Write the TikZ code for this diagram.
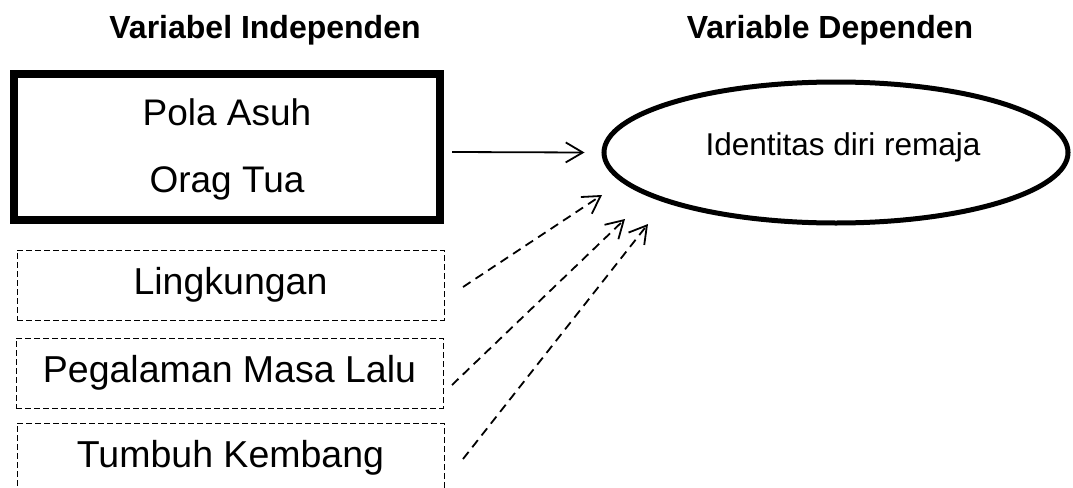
\documentclass[tikz,border=0pt]{standalone}
\usepackage{fontspec}
\setmainfont{Liberation Sans}
\usetikzlibrary{arrows.meta,calc,shapes.geometric}
\begin{document}
\begin{tikzpicture}[x=1pt,y=-1pt,
  title/.style={font=\fontsize{32}{38}\selectfont\bfseries, anchor=base, inner sep=0},
  maintext/.style={font=\fontsize{37}{44}\selectfont, anchor=base, inner sep=0},
  mainbox/.style={draw, line width=8pt, minimum width=426pt, minimum height=145.5pt, inner sep=0},
  dbox/.style={draw, dash pattern=on 6pt off 3pt, line width=1pt, minimum width=427pt, minimum height=70pt, inner sep=0,
    font=\fontsize{37.5}{44}\selectfont, text height=25.5pt, text depth=6.5pt},
  depnode/.style={ellipse, draw, line width=5pt, minimum width=464pt, minimum height=141pt, inner sep=0},
  deptext/.style={font=\fontsize{31.5}{38}\selectfont, anchor=base, inner sep=0},
  arr/.style={line width=1.8pt, -{Straight Barb[length=17pt,width=20pt,line width=1.8pt]}},
  darr/.style={arr, dash pattern=on 9pt off 6pt}
]
\useasboundingbox (0,0) rectangle (1073,487);
\fill[white] (0,0) rectangle (1073,487);

\node[title] (t1) at (265,38) {Variabel Independen};
\node[title] (t2) at (830,38) {Variable Dependen};

\node[mainbox] (pola) at (227,146.75) {};
\node[maintext] (pola1) at (227,125) {Pola Asuh};
\node[maintext] (pola2) at (227,192) {Orag Tua};

\node[dbox] (ling) at (230.5,285) {Lingkungan};
\node[dbox] (peg) at (229.5,373) {Pegalaman Masa Lalu};
\node[dbox] (tum) at (230.5,458) {Tumbuh Kembang};

\node[depnode] (dep) at (836,152.5) {};
\node[deptext] (dept) at (843,155) {Identitas diri remaja};

\draw[arr] ($(pola.east)+(8,5.25)$) -- ($(dep.west)+(-17,0)$);
\draw[darr] ($(ling.east)+(18.5,2)$) -- ($(dep.center)+(-234,42.5)$);
\draw[darr] ($(peg.east)+(8.5,12)$) -- ($(dep.center)+(-211,66.5)$);
\draw[darr] ($(tum.east)+(18.5,1)$) -- ($(dep.center)+(-188,71.5)$);
\end{tikzpicture}
\end{document}
